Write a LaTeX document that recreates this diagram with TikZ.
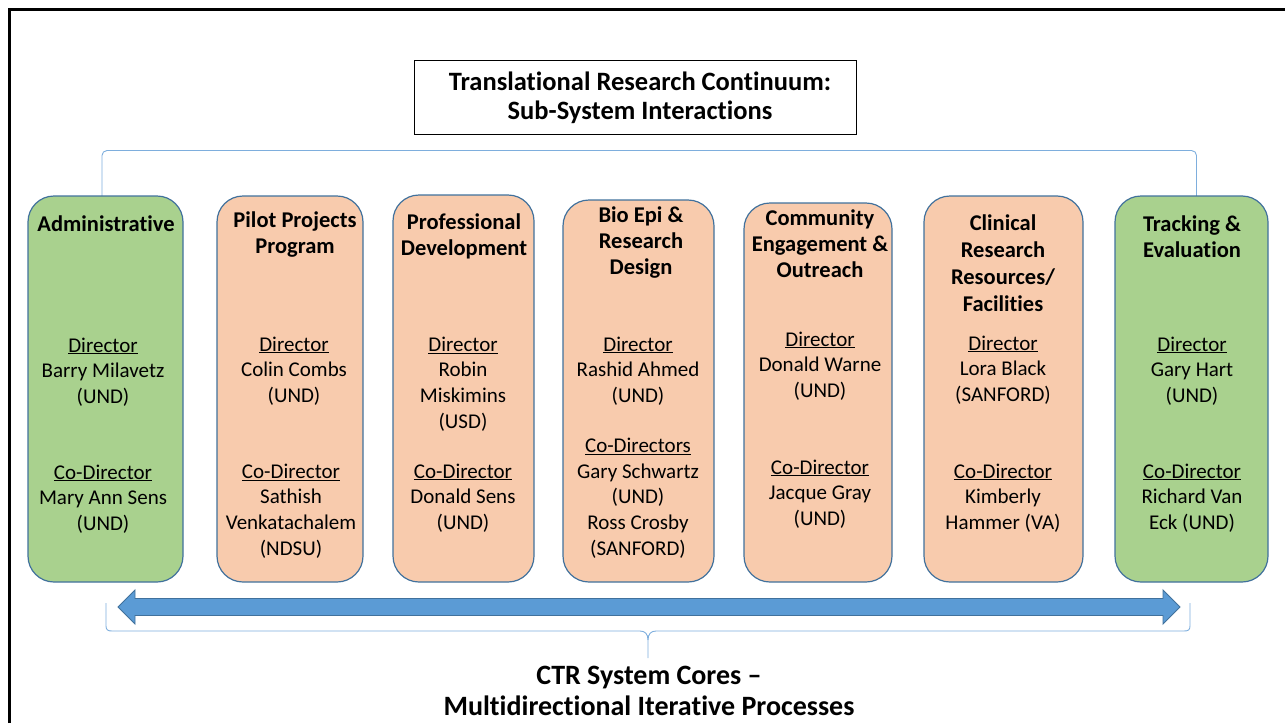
\documentclass[tikz,border=0pt]{standalone}
\usepackage{fontspec}
\setmainfont[Ligatures=NoCommon]{Carlito}
\definecolor{boxline}{HTML}{41719C}
\definecolor{greenfill}{HTML}{A9D18E}
\definecolor{orangefill}{HTML}{F8CBAD}
\definecolor{arrowfill}{HTML}{5B9BD5}
\definecolor{bracecol}{HTML}{7EAEDD}
\tikzset{
  corebox/.style={draw=boxline, line width=1.2pt, rounded corners=26pt, inner sep=0pt},
  greenbox/.style={corebox, fill=greenfill},
  orangebox/.style={corebox, fill=orangefill},
  headtext/.style={align=center, inner sep=0pt, font=\fontsize{22.5}{26}\selectfont\bfseries},
  bodytext/.style={align=center, inner sep=0pt, font=\fontsize{21}{25.7}\selectfont},
  titletext/.style={align=center, inner sep=0pt, font=\fontsize{26.5}{29}\selectfont\bfseries},
  bracket/.style={draw=bracecol, line width=0.9pt},
}
\begin{document}
\begin{tikzpicture}[x=1pt,y=-1pt]
\useasboundingbox (0,0) rectangle (1285,723);
% outer frame (only left and top edges visible)
\draw[line width=3pt] (9.5,723) -- (9.5,9.5) -- (1285,9.5);

% title
\node[draw=black, line width=0.9pt, minimum width=442pt, minimum height=74pt, inner sep=0pt] (title) at (635,97) {};
\node[titletext] (titletxt) at (640,97.5) {Translational Research Continuum:\\Sub-System Interactions};

% top bracket
\draw[bracket, rounded corners=5pt] (102,196) -- (102,150.5) -- (1196.5,150.5) -- (1196.5,196);

% boxes
\node[greenbox,  minimum width=155pt, minimum height=386pt] (adm) at (105.5,389) {};
\node[orangebox, minimum width=146pt, minimum height=386pt] (pil) at (290,389) {};
\node[orangebox, minimum width=141pt, minimum height=387pt] (pro) at (463.5,388.5) {};
\node[orangebox, minimum width=151pt, minimum height=382pt] (bio) at (638.5,391) {};
\node[orangebox, minimum width=148pt, minimum height=379pt] (com) at (818,392.5) {};
\node[orangebox, minimum width=159pt, minimum height=386pt] (cli) at (1003.5,389) {};
\node[greenbox,  minimum width=153pt, minimum height=386pt] (trk) at (1191.5,389) {};

% Administrative
\node[headtext] (admh) at (106,224) {Administrative};
\node[bodytext] (admd) at (103,372) {\underline{Director}\\Barry Milavetz\\(UND)};
\node[bodytext] (admc) at (103,499) {\underline{Co-Director}\\Mary Ann Sens\\(UND)};

% Pilot Projects
\node[headtext] (pilh) at (295,235) {Pilot Projects\\Program};
\node[bodytext] (pild) at (294,371) {\underline{Director}\\Colin Combs\\(UND)};
\node[bodytext] (pilc) at (291,511) {\underline{Co-Director}\\Sathish\\Venkatachalem\\(NDSU)};

% Professional Development
\node[headtext] (proh) at (464,236) {Professional\\Development};
\node[bodytext] (prod) at (463,384) {\underline{Director}\\Robin\\Miskimins\\(USD)};
\node[bodytext] (proc) at (463,498) {\underline{Co-Director}\\Donald Sens\\(UND)};

% Bio Epi
\node[headtext] (bioh) at (641,243) {Bio Epi \&\\Research\\Design};
\node[bodytext] (biod) at (638,371) {\underline{Director}\\Rashid Ahmed\\(UND)};
\node[bodytext] (bioc) at (638,498) {\underline{Co-Directors}\\Gary Schwartz\\(UND)\\Ross Crosby\\(SANFORD)};

% Community
\node[headtext] (comh) at (820,244) {Community\\Engagement \&\\Outreach};
\node[bodytext] (comd) at (820,366) {\underline{Director}\\Donald Warne\\(UND)};
\node[bodytext] (comc) at (820,494) {\underline{Co-Director}\\Jacque Gray\\(UND)};

% Clinical
\node[headtext, font=\fontsize{22.5}{27}\selectfont\bfseries] (clih) at (1003,263) {Clinical\\Research\\Resources/\\Facilities};
\node[bodytext] (clid) at (1003,370) {\underline{Director}\\Lora Black\\(SANFORD)};
\node[bodytext] (clic) at (1003,498) {\underline{Co-Director}\\Kimberly\\Hammer (VA)};

% Tracking
\node[headtext] (trkh) at (1192,237) {Tracking \&\\Evaluation};
\node[bodytext] (trkd) at (1192,371) {\underline{Director}\\Gary Hart\\(UND)};
\node[bodytext] (trkc) at (1192,498) {\underline{Co-Director}\\Richard Van\\Eck (UND)};

% double arrow
\draw[draw=boxline, fill=arrowfill, line width=0.9pt, line join=miter]
  (118,607) -- (135,590) -- (135,598.5) -- (1163,598.5) -- (1163,590) -- (1180,607)
  -- (1163,624) -- (1163,615.5) -- (135,615.5) -- (135,624) -- cycle;

% bottom bracket
\draw[bracket] (106,603) -- (106,626) .. controls (106,630) and (108,631) .. (112,631)
  -- (640,631) .. controls (645,631) and (648,634) .. (648,640) -- (648,658);
\draw[bracket] (648,640) .. controls (648,634) and (651,631) .. (656,631)
  -- (1184,631) .. controls (1188,631) and (1190,630) .. (1190,626) -- (1190,603);

% bottom text
\node[titletext, font=\fontsize{28}{31}\selectfont\bfseries] (bottxt) at (649,690.5) {CTR System Cores --\\Multidirectional Iterative Processes};
\end{tikzpicture}
\end{document}
